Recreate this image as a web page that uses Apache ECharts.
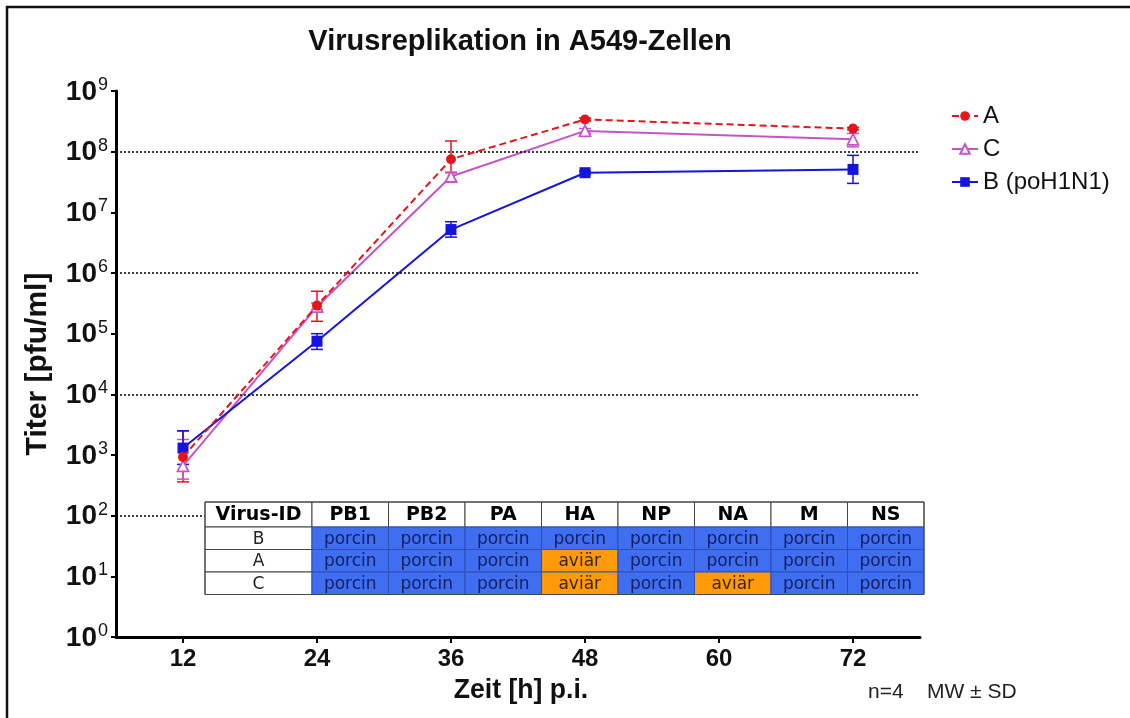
<!DOCTYPE html>
<html>
<head>
<meta charset="utf-8">
<script src="https://cdn.jsdelivr.net/npm/echarts@6/dist/echarts.min.js"></script>
<style>
  html, body { margin: 0; padding: 0; background: #fff; }
  #main { width: 1130px; height: 718px; }
</style>
</head>
<body>
<div id="main"></div>
<script>
// Zeitpunkte (h p.i.)
var hours = [12, 24, 36, 48, 72];
var xTicks = [12, 24, 36, 48, 60, 72];

// Mittelwerte (pfu/ml)
var meanA = [930, 2.9e5, 7.5e7, 3.4e8, 2.4e8];
var meanC = [660, 2.8e5, 3.9e7, 2.2e8, 1.6e8];
var meanB = [1.3e3, 7.5e4, 5.2e6, 4.5e7, 5.1e7];

// Fehlerbalken: untere / obere Grenze (MW - SD, MW + SD)
var lowA = [360, 1.6e5, 4.5e7, 3.2e8, 2.3e8];
var highA = [2500, 5.0e5, 1.5e8, 3.6e8, 2.5e8];
var lowC = [400, 2.5e5, 3.3e7, 2.0e8, 1.2e8];
var highC = [1800, 3.2e5, 4.6e7, 2.4e8, 2.0e8];
var lowB = [700, 5.5e4, 3.9e6, 4.2e7, 3.0e7];
var highB = [2500, 1.0e5, 7.0e6, 4.8e7, 8.7e7];

// gestrichelte Hilfslinien
var guideLines = [1e2, 1e4, 1e6, 1e8];

// Tabelle
var tableHead = ['Virus-ID', 'PB1', 'PB2', 'PA', 'HA', 'NP', 'NA', 'M', 'NS'];
var tableRows = [
  ['B', 'porcin', 'porcin', 'porcin', 'porcin', 'porcin', 'porcin', 'porcin', 'porcin'],
  ['A', 'porcin', 'porcin', 'porcin', 'aviär', 'porcin', 'porcin', 'porcin', 'porcin'],
  ['C', 'porcin', 'porcin', 'porcin', 'aviär', 'porcin', 'aviär', 'porcin', 'porcin']
];

var RED = '#e8141c', VIOLET = '#c455c8', BLUE = '#1414dc';
var sans = "'Liberation Sans', Arial, sans-serif";

function pairs(x, y) {
  return x.map(function (v, i) { return [v, y[i]]; });
}
function bars(x, lo, hi) {
  return x.map(function (v, i) { return [v, lo[i], hi[i]]; });
}
function errorSeries(name, color, data) {
  return {
    name: name,
    type: 'custom',
    data: data,
    z: 3,
    silent: true,
    renderItem: function (params, api) {
      var lo = api.coord([api.value(0), api.value(1)]);
      var hi = api.coord([api.value(0), api.value(2)]);
      var w = 6;
      var st = { stroke: color, lineWidth: 1.5 };
      return {
        type: 'group',
        children: [
          { type: 'line', shape: { x1: lo[0], y1: lo[1], x2: hi[0], y2: hi[1] }, style: st },
          { type: 'line', shape: { x1: lo[0] - w, y1: lo[1], x2: lo[0] + w, y2: lo[1] }, style: st },
          { type: 'line', shape: { x1: hi[0] - w, y1: hi[1], x2: hi[0] + w, y2: hi[1] }, style: st }
        ]
      };
    }
  };
}

// Tabelle als Grafik-Elemente
var tLeft = 205, tTop = 502, firstW = 107, colW = 76.5, headH = 25, rowH = 22.5;
var BLUE_CELL = '#3f6ef0', ORANGE_CELL = '#ff9a0a';
var cells = [];
function cellX(c) { return c === 0 ? tLeft : tLeft + firstW + (c - 1) * colW; }
function cellW(c) { return c === 0 ? firstW : colW; }
tableHead.forEach(function (h, c) {
  cells.push({
    type: 'rect', z: 100,
    shape: { x: cellX(c), y: tTop, width: cellW(c), height: headH },
    style: { fill: '#fff', stroke: '#444', lineWidth: 1 }
  });
  cells.push({
    type: 'text', z: 101,
    x: cellX(c) + cellW(c) / 2, y: tTop + headH / 2 + 1,
    style: { text: h, fill: '#000', font: "bold 19px 'DejaVu Sans', Verdana, sans-serif", align: 'center', verticalAlign: 'middle' }
  });
});
tableRows.forEach(function (row, r) {
  var y = tTop + headH + r * rowH;
  row.forEach(function (t, c) {
    var fill = c === 0 ? '#fff' : (t === 'aviär' ? ORANGE_CELL : BLUE_CELL);
    var tc = c === 0 ? '#222' : (t === 'aviär' ? '#3a2500' : '#142060');
    cells.push({
      type: 'rect', z: 100,
      shape: { x: cellX(c), y: y, width: cellW(c), height: rowH },
      style: { fill: fill, stroke: c === 0 ? '#444' : '#2f4fb8', lineWidth: 1 }
    });
    cells.push({
      type: 'text', z: 101,
      x: cellX(c) + cellW(c) / 2, y: y + rowH / 2 + 1,
      style: { text: t, fill: tc, font: "17px 'DejaVu Sans', Verdana, sans-serif", align: 'center', verticalAlign: 'middle' }
    });
  });
});
// Außenrahmen der Tabelle
cells.push({
  type: 'rect', z: 102,
  shape: { x: tLeft, y: tTop, width: firstW + 8 * colW, height: headH + 3 * rowH },
  style: { fill: 'none', stroke: '#444', lineWidth: 1 }
});

var chart = echarts.init(document.getElementById('main'));

var option = {
  backgroundColor: '#fff',
  animation: false,
  grid: { left: 116, right: 210, top: 91, bottom: 81 },
  legend: {
    orient: 'vertical',
    left: 946,
    top: 99,
    itemGap: 9,
    itemWidth: 26,
    itemHeight: 12,
    data: ['A', 'C', 'B (poH1N1)'],
    textStyle: { fontSize: 24, color: '#111', fontFamily: sans }
  },
  xAxis: {
    type: 'value',
    min: 6,
    max: 78,
    axisLine: { lineStyle: { color: '#000', width: 3 } },
    axisTick: { show: true, length: 6, customValues: xTicks, lineStyle: { color: '#000', width: 2 } },
    axisLabel: { customValues: xTicks, margin: 10, fontSize: 24, fontWeight: 'bold', color: '#111', fontFamily: sans },
    splitLine: { show: false }
  },
  yAxis: {
    type: 'log',
    logBase: 10,
    min: 1,
    max: 1e9,
    axisLine: { show: true, lineStyle: { color: '#000', width: 3 } },
    axisTick: { show: true, length: 5, lineStyle: { color: '#000', width: 2 } },
    axisLabel: {
      margin: 8,
      formatter: function (v) {
        return '{b|10}{s|' + Math.round(Math.log10(v)) + '}';
      },
      rich: {
        b: { fontSize: 28, fontWeight: 'bold', color: '#111', fontFamily: sans, lineHeight: 30, verticalAlign: 'bottom' },
        s: { fontSize: 18, color: '#111', fontFamily: sans, lineHeight: 18, verticalAlign: 'top', padding: [0, 0, 0, 1] }
      }
    },
    splitLine: { show: false }
  },
  series: [
    {
      name: 'A',
      type: 'line',
      data: pairs(hours, meanA),
      symbol: 'circle',
      symbolSize: 10,
      z: 5,
      itemStyle: { color: RED },
      lineStyle: { color: RED, width: 2, type: [7, 4] },
      markLine: {
        silent: true,
        symbol: 'none',
        label: { show: false },
        lineStyle: { color: '#000', width: 1.5, type: [2, 2] },
        data: guideLines.map(function (v) { return { yAxis: v }; })
      }
    },
    {
      name: 'C',
      type: 'line',
      data: pairs(hours, meanC),
      symbol: 'triangle',
      symbolSize: 11,
      z: 4,
      itemStyle: { color: '#fff', borderColor: VIOLET, borderWidth: 1.8 },
      lineStyle: { color: VIOLET, width: 2 }
    },
    {
      name: 'B (poH1N1)',
      type: 'line',
      data: pairs(hours, meanB),
      symbol: 'rect',
      symbolSize: 11,
      z: 4,
      itemStyle: { color: BLUE },
      lineStyle: { color: BLUE, width: 2 }
    },
    errorSeries('errA', RED, bars(hours, lowA, highA)),
    errorSeries('errC', VIOLET, bars(hours, lowC, highC)),
    errorSeries('errB', BLUE, bars(hours, lowB, highB))
  ],
  graphic: [
    { type: 'line', z: 0, shape: { x1: 6, y1: 7, x2: 1130, y2: 7 }, style: { stroke: '#111', lineWidth: 2.5 } },
    { type: 'line', z: 0, shape: { x1: 7, y1: 6, x2: 7, y2: 718 }, style: { stroke: '#111', lineWidth: 2.5 } },
    {
      type: 'text', x: 520, y: 42,
      style: { text: 'Virusreplikation in A549-Zellen', fill: '#111', font: 'bold 29px ' + sans, align: 'center', verticalAlign: 'middle' }
    },
    {
      type: 'text', x: 38, y: 364, rotation: Math.PI / 2, scaleX: 1.0,
      style: { text: 'Titer [pfu/ml]', fill: '#111', font: 'bold 30px ' + sans, align: 'center', verticalAlign: 'middle' }
    },
    {
      type: 'text', x: 521, y: 690, scaleX: 0.95,
      style: { text: 'Zeit [h] p.i.', fill: '#111', font: 'bold 28px ' + sans, align: 'center', verticalAlign: 'middle' }
    },
    {
      type: 'text', x: 868, y: 692,
      style: { text: 'n=4    MW ± SD', fill: '#222', font: '21px ' + sans, align: 'left', verticalAlign: 'middle' }
    }
  ].concat(cells)
};

chart.setOption(option);
</script>
</body>
</html>
